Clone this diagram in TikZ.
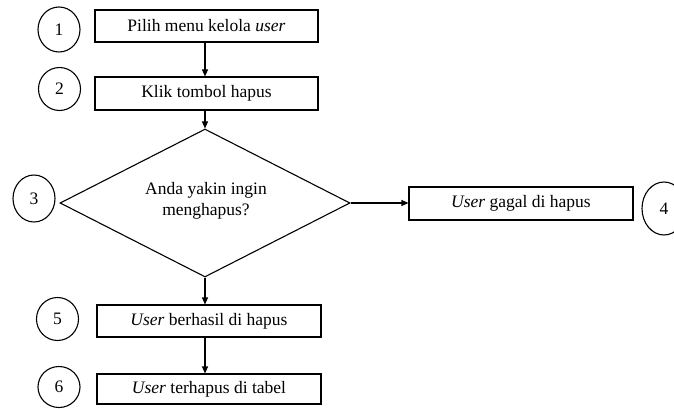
\documentclass[tikz,border=0pt]{standalone}
\usepackage{fontspec}
\setmainfont{Liberation Serif}
\usetikzlibrary{shapes.geometric,arrows.meta}
\begin{document}
\begin{tikzpicture}[x=1pt,y=-1pt,
  line width=1.1pt,
  every node/.style={font=\fontsize{17.5}{21}\selectfont},
  procbox/.style={draw,rectangle,minimum width=223pt,minimum height=32pt,inner sep=0pt},
  decision/.style={draw,diamond,shape aspect=2,inner sep=0pt,minimum width=290pt,minimum height=148pt},
  numtag/.style={draw,ellipse,inner sep=0pt,minimum width=42pt,minimum height=43pt},
  flow/.style={-{Triangle[length=7pt,width=6pt]}}]
  \useasboundingbox (0,0) rectangle (674,409);

  % process steps
  \node[procbox] (b1) at (206.5,26) {Pilih menu kelola \textit{user}};
  \node[procbox,minimum height=33pt] (b2) at (206.5,93.5) {Klik tombol hapus};
  \node[decision] (d) at (205,203) {};
  \node[align=center] (q) at (206,201) {Anda yakin ingin\\menghapus?};
  \node[procbox,minimum width=224pt,minimum height=33pt] (b4) at (521,203.5) {\textit{User} gagal di hapus};
  \node[procbox,minimum width=224pt] (b5) at (209,321) {\textit{User} berhasil di hapus};
  \node[procbox,minimum width=224pt,minimum height=30pt] (b6) at (209,389) {\textit{User} terhapus di tabel};

  % step numbers
  \node[numtag,minimum height=45pt] (n1) at (59,29.5) {1};
  \node[numtag] (n2) at (59.5,89) {2};
  \node[numtag,minimum height=47pt] (n3) at (34,198.5) {3};
  \node[numtag,minimum width=44pt,minimum height=53pt] (n4) at (664,208.5) {4};
  \node[numtag] (n5) at (57.5,319) {5};
  \node[numtag,minimum height=41pt] (n6) at (59,387) {6};

  % connectors
  \draw[flow] (b1.south -| d.north) -- (b2.north -| d.north);
  \draw[flow] (b2.south -| d.north) -- (d.north);
  \draw[flow] (d.east) -- (b4.west |- d.east);
  \draw[flow] (d.south) -- (b5.north -| d.south);
  \draw[flow] (b5.south -| d.south) -- (b6.north -| d.south);
\end{tikzpicture}
\end{document}
